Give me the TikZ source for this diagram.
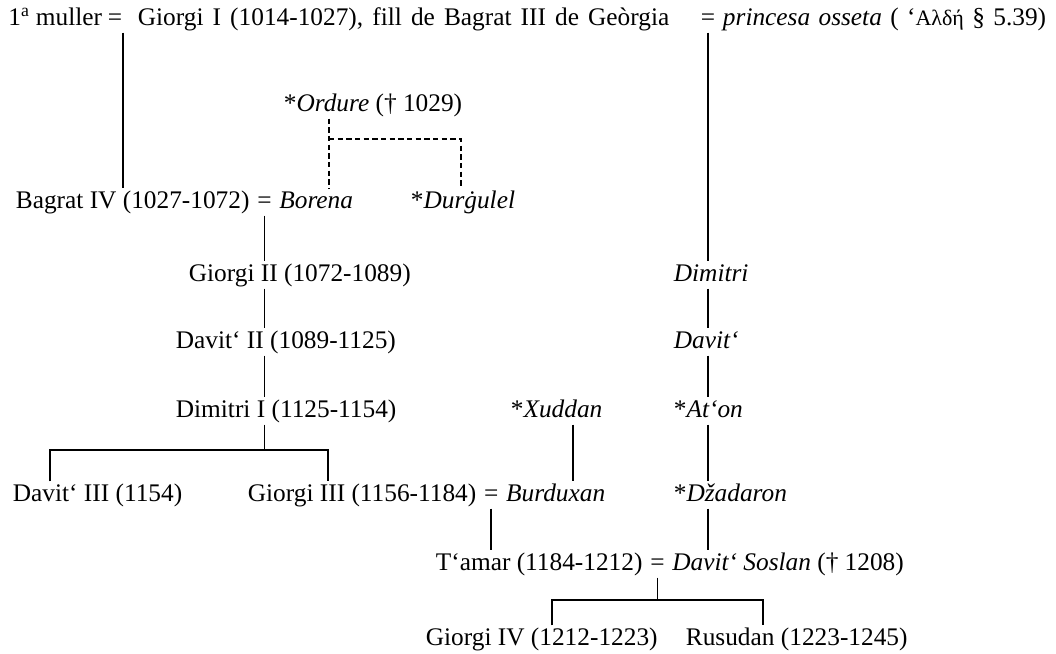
\documentclass[tikz,border=0pt]{standalone}
\usepackage{fontspec}
\setmainfont{Liberation Serif}
\usetikzlibrary{positioning}

\tikzset{every picture/.style={line width=1.35pt}}
\tikzset{ged/.style={font=\fontsize{19}{22}\selectfont, inner xsep=0pt, inner ysep=1pt, text height=13pt, text depth=4pt, anchor=base west}}

\begin{document}
\begin{tikzpicture}[x=0.75pt,y=0.75pt,yscale=-1,xscale=1, node distance=4.5pt]
\useasboundingbox (0,0) rectangle (1056,653);

% Text Node
\node[ged, anchor=base east] (eqA) at (123,25) {=};
\node[ged, left=3pt of eqA] (wifeA) {1\textsuperscript{a} muller};
% Text Node
\node[ged] (giorgiI) at (137,25) {\spaceskip=0.36em Giorgi I (1014-1027), fill de Bagrat III de Geòrgia};
% Text Node
\node[ged] (eqP) at (700,25) {=};
\node[ged, right=of eqP] (princesa) {\spaceskip=0.33em \textit{princesa osseta} (\ ‘{\fontsize{16.5}{18}\selectfont Αλδή} § 5.39)};
% Text Node
\node[ged] (ordure) at (283,111) {*\textit{Ordure} († 1029)};
% Text Node
\node[ged] (bagrat) at (15,208) {Bagrat IV (1027-1072)};
\node[ged, right=of bagrat] (eqB) {=};
\node[ged, right=of eqB] (borena) {\textit{Borena}};
% Text Node
\node[ged] (durgulel) at (410,208) {*\textit{Durġulel}};
% Text Node
\node[ged] (giorgiII) at (188,281) {Giorgi II (1072-1089)};
\node[ged] (davitII) at (175,348) {Davit‘ II (1089-1125)};
\node[ged] (dimitriI) at (175,417) {Dimitri I (1125-1154)};
% Text Node
\node[ged] (dimitriR) at (673,281) {\textit{Dimitri}};
\node[ged] (davitR) at (673,348) {\textit{Davit‘}};
\node[ged] (aton) at (673,417) {*\textit{At‘on}};
\node[ged] (dzadaron) at (673,501) {*\textit{Džadaron}};
% Text Node
\node[ged] (xuddan) at (510,417) {*\textit{Xuddan}};
% Text Node
\node[ged] (davitIII) at (12,501) {Davit‘ III (1154)};
\node[ged] (giorgiIII) at (247,501) {Giorgi III (1156-1184)};
\node[ged, right=of giorgiIII] (eqC) {=};
\node[ged, right=of eqC] (burduxan) {\textit{Burduxan}};
% Text Node
\node[ged] (tamar) at (435,570) {T‘amar (1184-1212)};
\node[ged, right=of tamar] (eqD) {=};
\node[ged, right=of eqD] (soslan) {\textit{Davit‘ Soslan} († 1208)};
% Text Node
\node[ged] (giorgiIV) at (425,645) {Giorgi IV (1212-1223)};
\node[ged] (rusudan) at (685,645) {Rusudan (1223-1245)};

% corners
\coordinate (dashL) at (329,139);
\coordinate (dashR) at (461,139);
\coordinate (xudLeg) at (573,423);
\coordinate (legA) at (50,450);
\coordinate (legB) at (328,450);
\coordinate (legC) at (552,600);
\coordinate (legD) at (763,600);

%Straight Lines
\draw (eqA.south east) -- (eqA.south east |- bagrat.north);
\draw (eqP.south) -- (eqP.south |- dimitriR.north);
%Dashed Lines
\draw [dashed, dash pattern=on 4pt off 2.5pt] (ordure.south -| dashL) -- (dashL |- borena.north);
\draw [dashed, dash pattern=on 4pt off 2.5pt] (dashL) -- (dashR) -- (dashR |- durgulel.north);
%Straight Lines
\draw (eqB.south) -- (eqB.south |- giorgiII.north);
\draw (giorgiII.south -| eqB) -- (davitII.north -| eqB);
\draw (davitII.south -| eqB) -- (dimitriI.north -| eqB);
\draw (dimitriI.south -| eqB) -- (eqB |- legA);
\draw (davitIII.north -| legA) -- (legA) -- (legB) -- (giorgiIII.north -| legB);
%Straight Lines
\draw (dimitriR.south -| eqP) -- (davitR.north -| eqP);
\draw (davitR.south -| eqP) -- (aton.north -| eqP);
\draw (aton.south -| eqP) -- (dzadaron.north -| eqP);
\draw (dzadaron.south -| eqP) -- (soslan.north -| eqP);
%Straight Lines
\draw (xuddan.south -| xudLeg) -- (xudLeg |- burduxan.north);
\draw (eqC.south) -- (eqC.south |- tamar.north);
\draw (eqD.south) -- (eqD |- legC);
\draw (giorgiIV.north -| legC) -- (legC) -- (legD) -- (rusudan.north -| legD);

\end{tikzpicture}
\end{document}
